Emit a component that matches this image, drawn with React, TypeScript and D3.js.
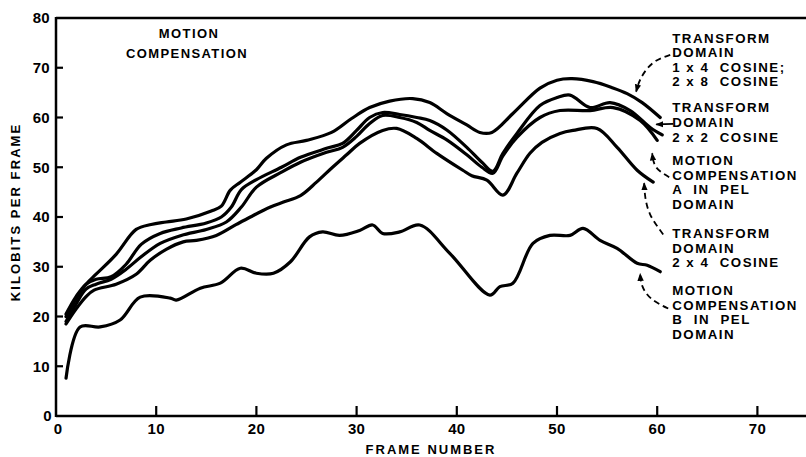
import React from 'react';
import * as d3 from 'd3';

// Kilobits per frame
const topFrames = [1, 2, 3, 4, 6, 8, 9.5, 11, 13, 15.5, 16.5, 17.4, 18.4, 20, 21, 23, 25, 27.5, 29.5, 31.3, 33.3, 35.6, 37.3, 39, 41, 42.3, 43.5, 45.6, 48.3, 50, 51.5, 53.6, 55.5, 57, 58.5, 60.3];
const topKbits = [20, 23.5, 26.5, 28.5, 32.5, 37.5, 38.5, 39, 39.6, 41.2, 42.2, 45.4, 47, 49.5, 51.8, 54.5, 55.4, 57, 59.8, 62, 63.3, 63.8, 63, 60.8, 58.5, 57, 57, 60.8, 65.9, 67.5, 67.8, 67.2, 66, 64.8, 63, 60];

const cos2x2Frames = [1, 2, 3, 4, 5.5, 7, 8.5, 10.4, 12.5, 15, 16.5, 17.5, 18.5, 20, 22.5, 24.4, 27, 28.6, 30, 31.3, 32.6, 34.3, 36, 37.3, 39, 41, 42.5, 43.6, 44.6, 46, 48.3, 50, 51.3, 53.3, 55.3, 57.3, 59.3, 60.5];
const cos2x2Kbits = [20.5, 24, 26.5, 27.5, 28, 30.5, 34.5, 36.7, 37.8, 38.8, 40, 42, 45.5, 47.5, 50, 52, 53.8, 54.8, 57.4, 60, 61, 60.6, 60, 59.4, 57.5, 54, 51, 49.2, 52.8, 56.8, 62.4, 64, 64.5, 62, 63, 61.4, 58, 56.5];

const mcAFrames = [1, 2, 3, 4, 5.5, 7, 8.5, 10.4, 12.5, 15, 17, 18.5, 20, 22.5, 24.4, 27, 28.6, 30, 31.3, 32.6, 34.3, 36, 37.3, 39, 41, 42.5, 43.6, 44.6, 46, 48.3, 50.3, 53.3, 55.6, 58.3, 60];
const mcAKbits = [19, 22.5, 25.5, 26.5, 27.5, 29.5, 32, 34.7, 36.3, 37.5, 39, 42, 46, 49, 51, 53, 54, 56.2, 58.8, 60.4, 60, 59, 57.4, 55.5, 52.5, 50, 48.8, 52.3, 56, 60, 61.4, 61.4, 62, 59.4, 55.4];

const cos2x4Frames = [1, 2, 3, 3.8, 6, 8, 9.4, 11, 12.7, 14, 16, 18, 19.4, 21.4, 22.7, 24.4, 26, 27.6, 29, 30.3, 32.6, 34, 36, 38, 40.6, 41.5, 43, 44.6, 46, 47.3, 48.5, 50.3, 51.6, 54, 56, 58, 59.6];
const cos2x4Kbits = [18.5, 21.5, 24, 25.3, 26.5, 28.5, 31.3, 33.5, 35, 35.3, 36.3, 38.5, 40, 42, 43, 44.3, 47, 50, 52.5, 54.8, 57.4, 57.8, 55.8, 52.8, 49.4, 48.3, 47.4, 44.4, 48.8, 52.8, 55, 56.8, 57.4, 57.8, 54, 49.4, 47];

const mcBFrames = [1, 2.4, 4.4, 6.4, 8.4, 11.4, 12, 14.4, 16.4, 18.4, 20, 21.7, 23.4, 25.3, 26.6, 28.3, 30.3, 31.6, 32.6, 34.3, 36.3, 39.3, 43.3, 44.3, 45.6, 47.6, 49.3, 51.3, 52.6, 54.3, 56, 58, 59, 60.3];
const mcBKbits = [7.6, 17.9, 17.9, 19.3, 23.9, 23.7, 23.3, 25.7, 26.7, 29.7, 28.7, 28.7, 31, 36, 37, 36.3, 37.3, 38.4, 36.7, 37, 38.4, 32.7, 24.3, 26, 26.7, 34.7, 36.3, 36.3, 37.7, 35.3, 33.7, 30.7, 30.3, 29];

const series = [
  { frames: topFrames, kbits: topKbits },
  { frames: cos2x2Frames, kbits: cos2x2Kbits },
  { frames: mcAFrames, kbits: mcAKbits },
  { frames: cos2x4Frames, kbits: cos2x4Kbits },
  { frames: mcBFrames, kbits: mcBKbits },
];

const yTicks = [0, 10, 20, 30, 40, 50, 60, 70, 80];
const xTicks = [0, 10, 20, 30, 40, 50, 60, 70];

// label blocks: text lines + first line centre (kbit units)
const labelBlocks = [
  { lines: ['TRANSFORM', 'DOMAIN', '1 x 4  COSINE;', '2 x 8  COSINE'], at: 76.0 },
  { lines: ['TRANSFORM', 'DOMAIN', '2 x 2  COSINE'], at: 62.0 },
  { lines: ['MOTION', 'COMPENSATION', 'A  IN  PEL', 'DOMAIN'], at: 51.4 },
  { lines: ['TRANSFORM', 'DOMAIN', '2 x 4  COSINE'], at: 36.7 },
  { lines: ['MOTION', 'COMPENSATION', 'B  IN  PEL', 'DOMAIN'], at: 25.3 },
];

// leader arrows, [frame, kbits] points, last one is the tip
const leaders = [
  { pts: [[61.3, 72.6], [59.6, 71.0], [58.4, 68.0], [57.9, 65.2]], dashed: true },
  { pts: [[61.6, 58.7], [59.9, 58.6]], dashed: false },
  { pts: [[61.2, 48.0], [59.9, 50.0], [59.5, 52.8]], dashed: true },
  { pts: [[60.6, 36.5], [59.3, 40.5], [58.8, 44.2], [58.7, 46.8]], dashed: true },
  { pts: [[61.1, 21.6], [59.4, 23.6], [58.5, 26.2], [58.3, 28.6]], dashed: true },
];

const W = 806;
const H = 457;
const FONT = '"Liberation Sans", Arial, sans-serif';

export default function App() {
  const x = d3.scaleLinear().domain([0, 75]).range([56, 807.5]);
  const y = d3.scaleLinear().domain([0, 80]).range([416, 18]);

  const line = d3.line<[number, number]>()
    .x(d => x(d[0]))
    .y(d => y(d[1]))
    .curve(d3.curveCatmullRom.alpha(0.5));

  const leaderLine = d3.line<number[]>()
    .x(d => x(d[0]))
    .y(d => y(d[1]))
    .curve(d3.curveNatural);

  const lineGap = 14.6;

  return (
    <svg width={W} height={H} style={{ position: 'fixed', left: 0, top: 0, background: '#fff' }}
      fontFamily={FONT} fontWeight="bold">
      <defs>
        <marker id="head" viewBox="0 0 10 8" refX="9" refY="4" markerWidth="8" markerHeight="7"
          markerUnits="userSpaceOnUse" orient="auto">
          <path d="M0,0 L10,4 L0,8 Z" fill="#000" />
        </marker>
      </defs>
      <rect width={W} height={H} fill="#fff" />

      {/* frame */}
      <line x1={x(0)} x2={W} y1={y(80)} y2={y(80)} stroke="#000" strokeWidth={2.5} />
      <line x1={x(0)} x2={W} y1={y(0)} y2={y(0)} stroke="#000" strokeWidth={2.5} />
      <line x1={x(0)} x2={x(0)} y1={y(80) - 1} y2={y(0) + 1} stroke="#000" strokeWidth={2.5} />

      {yTicks.map(t => (
        <g key={'y' + t}>
          {t > 0 && t < 80 && <line x1={x(0)} x2={x(0) + 7} y1={y(t)} y2={y(t)} stroke="#000" strokeWidth={2.2} />}
          <text x={t === 0 ? 52 : 50} y={y(t)} dy="0.36em" textAnchor="end" fontSize={15} letterSpacing={0.3}>{t}</text>
        </g>
      ))}
      {xTicks.map(t => (
        <g key={'x' + t}>
          {t > 0 && <line x1={x(t)} x2={x(t)} y1={y(0)} y2={y(0) - 10} stroke="#000" strokeWidth={2.2} />}
          <text x={x(t) + (t === 0 ? 2 : 0)} y={434} textAnchor="middle" fontSize={15} letterSpacing={0.3}>{t}</text>
        </g>
      ))}

      <text x={431} y={454} textAnchor="middle" fontSize={13} letterSpacing={2}>FRAME NUMBER</text>
      <text transform={`translate(20,${212}) rotate(-90)`} textAnchor="middle" fontSize={13} letterSpacing={2.1}>KILOBITS PER FRAME</text>

      <text x={189} y={38} textAnchor="middle" fontSize={13} letterSpacing={1.4}>MOTION</text>
      <text x={187} y={58} textAnchor="middle" fontSize={13} letterSpacing={1.4}>COMPENSATION</text>

      {series.map((s, i) => (
        <path key={i} d={line(s.frames.map((f, j) => [f, s.kbits[j]] as [number, number])) || ''}
          fill="none" stroke="#000" strokeWidth={3.2} strokeLinejoin="round" strokeLinecap="round" />
      ))}

      {leaders.map((l, i) => (
        <path key={'l' + i} d={leaderLine(l.pts) || ''} fill="none" stroke="#000" strokeWidth={1.8}
          strokeDasharray={l.dashed ? '6 4' : undefined} markerEnd="url(#head)" />
      ))}

      {labelBlocks.map((b, i) => (
        <g key={'b' + i}>
          {b.lines.map((ln, j) => (
            <text key={j} x={x(61.5)} y={y(b.at) + j * lineGap} dy="0.36em" fontSize={13.3}
              letterSpacing={1.5} style={{ whiteSpace: 'pre' }}>{ln}</text>
          ))}
        </g>
      ))}
    </svg>
  );
}
